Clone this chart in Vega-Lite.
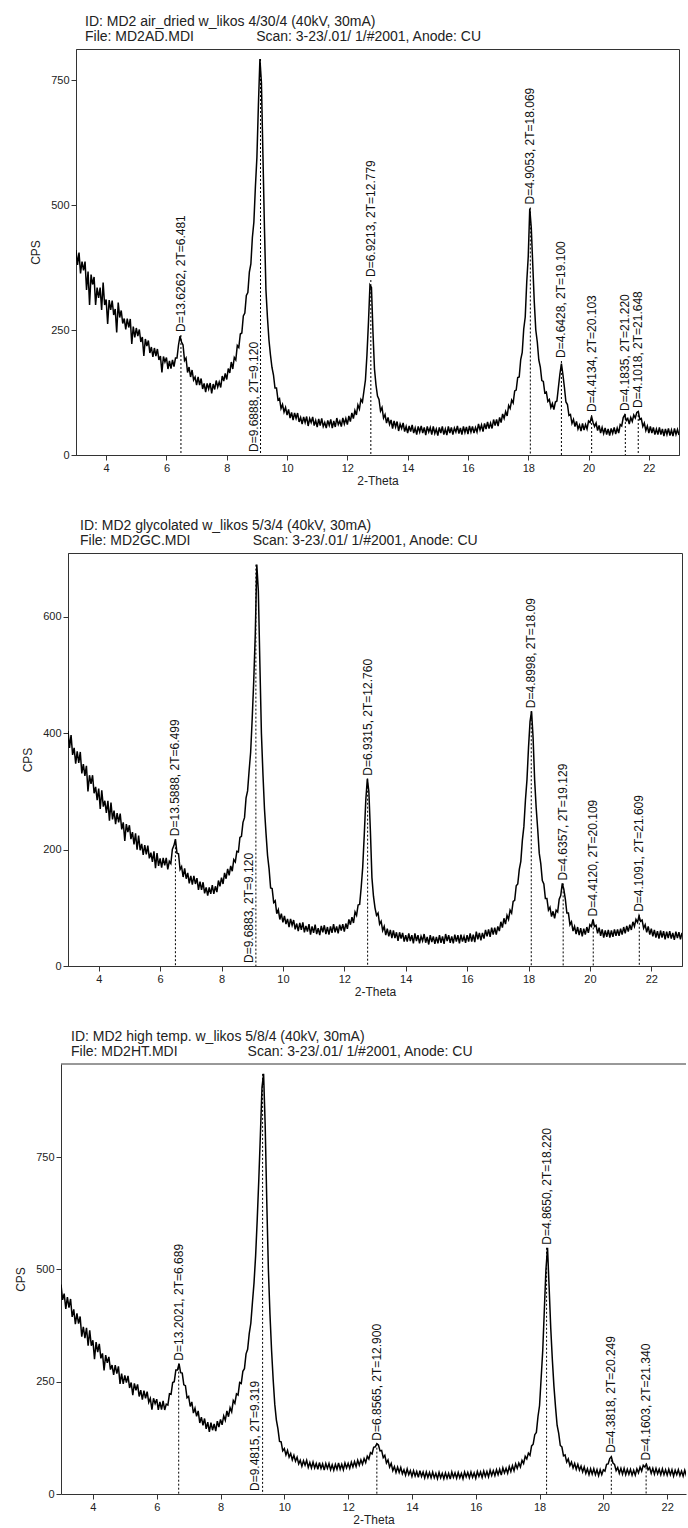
{
"$schema": "https://vega.github.io/schema/vega-lite/v6.json",
"background": "white",
"padding": {"left": 0, "top": 14, "right": 0, "bottom": 0},
"spacing": 31,
"config": {
  "font": "Liberation Sans",
  "view": {"stroke": "#333", "strokeWidth": 1},
  "axis": {"grid": false, "domainColor": "#333", "tickColor": "#333", "labelColor": "#222", "titleColor": "#222", "labelFontSize": 11, "titleFontSize": 12, "titleFontWeight": "normal", "tickSize": 5, "labelPadding": 2},
  "axisX": {"titlePadding": 2},
  "axisY": {"titlePadding": 8},
  "title": {"fontSize": 14, "fontWeight": "normal", "color": "#222", "lineHeight": 15, "anchor": "start", "frame": "group", "offset": 5},
  "text": {"font": "Liberation Sans"}
},
"datasets": {
"peaks": [
{"s":"a","t":6.481,"cps":240,"label":"D=13.6262, 2T=6.481"},
{"s":"a","t":9.12,"cps":792,"label":"D=9.6888, 2T=9.120"},
{"s":"a","t":12.779,"cps":350,"label":"D=6.9213, 2T=12.779"},
{"s":"a","t":18.069,"cps":495,"label":"D=4.9053, 2T=18.069"},
{"s":"a","t":19.1,"cps":188,"label":"D=4.6428, 2T=19.100"},
{"s":"a","t":20.103,"cps":80,"label":"D=4.4134, 2T=20.103"},
{"s":"a","t":21.22,"cps":82,"label":"D=4.1835, 2T=21.220"},
{"s":"a","t":21.648,"cps":88,"label":"D=4.1018, 2T=21.648"},
{"s":"g","t":6.499,"cps":218,"label":"D=13.5888, 2T=6.499"},
{"s":"g","t":9.12,"cps":690,"label":"D=9.6883, 2T=9.120"},
{"s":"g","t":12.76,"cps":322,"label":"D=6.9315, 2T=12.760"},
{"s":"g","t":18.09,"cps":438,"label":"D=4.8998, 2T=18.09"},
{"s":"g","t":19.129,"cps":142,"label":"D=4.6357, 2T=19.129"},
{"s":"g","t":20.109,"cps":80,"label":"D=4.4120, 2T=20.109"},
{"s":"g","t":21.609,"cps":88,"label":"D=4.1091, 2T=21.609"},
{"s":"h","t":6.689,"cps":290,"label":"D=13.2021, 2T=6.689"},
{"s":"h","t":9.319,"cps":935,"label":"D=9.4815, 2T=9.319"},
{"s":"h","t":12.9,"cps":112,"label":"D=6.8565, 2T=12.900"},
{"s":"h","t":18.22,"cps":548,"label":"D=4.8650, 2T=18.220"},
{"s":"h","t":20.249,"cps":85,"label":"D=4.3818, 2T=20.249"},
{"s":"h","t":21.34,"cps":68,"label":"D=4.1603, 2T=21.340"}
],
"scan": [
{"t":3.00,"a":410,"g":404,"h":466},{"t":3.05,"a":380,"g":375,"h":432},{"t":3.10,"a":405,"g":397,"h":446},{"t":3.15,"a":363,"g":363,"h":412},{"t":3.20,"a":387,"g":375,"h":438},
{"t":3.25,"a":369,"g":348,"h":415},{"t":3.30,"a":387,"g":369,"h":434},{"t":3.35,"a":330,"g":349,"h":394},{"t":3.40,"a":367,"g":368,"h":411},{"t":3.45,"a":300,"g":331,"h":378},
{"t":3.50,"a":361,"g":347,"h":402},{"t":3.55,"a":341,"g":327,"h":379},{"t":3.60,"a":356,"g":344,"h":395},{"t":3.65,"a":300,"g":300,"h":350},{"t":3.70,"a":335,"g":328,"h":372},
{"t":3.75,"a":314,"g":313,"h":347},{"t":3.80,"a":335,"g":328,"h":370},{"t":3.85,"a":290,"g":297,"h":330},{"t":3.90,"a":345,"g":308,"h":364},{"t":3.95,"a":300,"g":285,"h":330},
{"t":4.00,"a":311,"g":305,"h":342},{"t":4.05,"a":262,"g":270,"h":300},{"t":4.10,"a":310,"g":302,"h":338},{"t":4.15,"a":290,"g":274,"h":316},{"t":4.20,"a":309,"g":284,"h":334},
{"t":4.25,"a":280,"g":263,"h":302},{"t":4.30,"a":292,"g":284,"h":313},{"t":4.35,"a":245,"g":250,"h":275},{"t":4.40,"a":305,"g":281,"h":309},{"t":4.45,"a":275,"g":252,"h":292},
{"t":4.50,"a":289,"g":267,"h":305},{"t":4.55,"a":263,"g":244,"h":277},{"t":4.60,"a":273,"g":263,"h":287},{"t":4.65,"a":251,"g":247,"h":265},{"t":4.70,"a":273,"g":262,"h":287},
{"t":4.75,"a":255,"g":235,"h":268},{"t":4.80,"a":272,"g":247,"h":284},{"t":4.85,"a":222,"g":215,"h":245},{"t":4.90,"a":257,"g":244,"h":268},{"t":4.95,"a":235,"g":230,"h":245},
{"t":5.00,"a":254,"g":242,"h":264},{"t":5.05,"a":238,"g":218,"h":248},{"t":5.10,"a":251,"g":230,"h":263},{"t":5.15,"a":226,"g":209,"h":236},{"t":5.20,"a":236,"g":228,"h":248},
{"t":5.25,"a":198,"g":200,"h":220},{"t":5.30,"a":232,"g":224,"h":246},{"t":5.35,"a":218,"g":199,"h":231},{"t":5.40,"a":229,"g":210,"h":244},{"t":5.45,"a":204,"g":191,"h":217},
{"t":5.50,"a":216,"g":208,"h":231},{"t":5.55,"a":196,"g":192,"h":210},{"t":5.60,"a":214,"g":207,"h":230},{"t":5.65,"a":198,"g":185,"h":213},{"t":5.70,"a":212,"g":195,"h":228},
{"t":5.75,"a":190,"g":179,"h":204},{"t":5.80,"a":198,"g":197,"h":213},{"t":5.85,"a":165,"g":168,"h":188},{"t":5.90,"a":197,"g":194,"h":213},{"t":5.95,"a":186,"g":172,"h":201},
{"t":6.00,"a":195,"g":185,"h":211},{"t":6.05,"a":172,"g":169,"h":187},{"t":6.10,"a":188,"g":186,"h":205},{"t":6.15,"a":173,"g":173,"h":188},{"t":6.20,"a":190,"g":186,"h":207},
{"t":6.25,"a":177,"g":166,"h":187},{"t":6.30,"a":194,"g":180,"h":200},{"t":6.35,"a":194,"g":176,"h":198},{"t":6.40,"a":220,"g":201,"h":223},{"t":6.45,"a":238,"g":207,"h":222},
{"t":6.50,"a":226,"g":218,"h":248},{"t":6.55,"a":220,"g":194,"h":250},{"t":6.60,"a":189,"g":193,"h":276},{"t":6.65,"a":194,"g":166,"h":276},{"t":6.70,"a":165,"g":171,"h":290},
{"t":6.75,"a":176,"g":153,"h":270},{"t":6.80,"a":156,"g":168,"h":269},{"t":6.85,"a":170,"g":150,"h":243},{"t":6.90,"a":150,"g":160,"h":241},{"t":6.95,"a":156,"g":142,"h":214},
{"t":7.00,"a":140,"g":155,"h":217},{"t":7.05,"a":156,"g":140,"h":195},{"t":7.10,"a":140,"g":155,"h":205},{"t":7.15,"a":153,"g":141,"h":180},{"t":7.20,"a":132,"g":151,"h":191},
{"t":7.25,"a":143,"g":131,"h":173},{"t":7.30,"a":126,"g":145,"h":185},{"t":7.35,"a":143,"g":131,"h":158},{"t":7.40,"a":132,"g":144,"h":171},{"t":7.45,"a":144,"g":125,"h":153},
{"t":7.50,"a":123,"g":135,"h":168},{"t":7.55,"a":142,"g":121,"h":145},{"t":7.60,"a":131,"g":135,"h":160},{"t":7.65,"a":149,"g":124,"h":138},{"t":7.70,"a":136,"g":139,"h":159},
{"t":7.75,"a":146,"g":124,"h":142},{"t":7.80,"a":135,"g":137,"h":156},{"t":7.85,"a":158,"g":127,"h":140},{"t":7.90,"a":148,"g":147,"h":162},{"t":7.95,"a":163,"g":137,"h":149},
{"t":8.00,"a":151,"g":152,"h":166},{"t":8.05,"a":173,"g":141,"h":154},{"t":8.10,"a":164,"g":160,"h":174},{"t":8.15,"a":186,"g":150,"h":164},{"t":8.20,"a":172,"g":167,"h":185},
{"t":8.25,"a":195,"g":156,"h":172},{"t":8.30,"a":190,"g":172,"h":192},{"t":8.35,"a":219,"g":163,"h":183},{"t":8.40,"a":215,"g":183,"h":208},{"t":8.45,"a":242,"g":179,"h":202},
{"t":8.50,"a":244,"g":197,"h":223},{"t":8.55,"a":278,"g":196,"h":220},{"t":8.60,"a":284,"g":221,"h":248},{"t":8.65,"a":319,"g":223,"h":246},{"t":8.70,"a":325,"g":247,"h":273},
{"t":8.75,"a":366,"g":255,"h":279},{"t":8.80,"a":382,"g":289,"h":312},{"t":8.85,"a":435,"g":301,"h":322},{"t":8.90,"a":466,"g":336,"h":357},{"t":8.95,"a":536,"g":368,"h":380},
{"t":9.00,"a":595,"g":425,"h":426},{"t":9.05,"a":700,"g":490,"h":470},{"t":9.10,"a":792,"g":570,"h":530},{"t":9.15,"a":745,"g":690,"h":610},{"t":9.20,"a":600,"g":645,"h":700},
{"t":9.25,"a":455,"g":520,"h":800},{"t":9.30,"a":330,"g":400,"h":905},{"t":9.35,"a":275,"g":330,"h":935},{"t":9.40,"a":230,"g":270,"h":820},{"t":9.45,"a":200,"g":228,"h":650},
{"t":9.50,"a":175,"g":190,"h":500},{"t":9.55,"a":160,"g":167,"h":400},{"t":9.60,"a":134,"g":134,"h":320},{"t":9.65,"a":134,"g":133,"h":255},{"t":9.70,"a":110,"g":109,"h":200},
{"t":9.75,"a":113,"g":112,"h":165},{"t":9.80,"a":93,"g":90,"h":145},{"t":9.85,"a":101,"g":97,"h":117},{"t":9.90,"a":86,"g":80,"h":116},{"t":9.95,"a":95,"g":90,"h":96},
{"t":10.00,"a":80,"g":75,"h":101},{"t":10.05,"a":91,"g":86,"h":87},{"t":10.10,"a":74,"g":72,"h":97},{"t":10.15,"a":85,"g":81,"h":82},{"t":10.20,"a":70,"g":67,"h":90},
{"t":10.25,"a":84,"g":81,"h":76},{"t":10.30,"a":73,"g":70,"h":86},{"t":10.35,"a":84,"g":79,"h":73},{"t":10.40,"a":66,"g":63,"h":82},{"t":10.45,"a":75,"g":73,"h":67},
{"t":10.50,"a":62,"g":60,"h":75},{"t":10.55,"a":76,"g":74,"h":62},{"t":10.60,"a":65,"g":62,"h":74},{"t":10.65,"a":77,"g":75,"h":64},{"t":10.70,"a":58,"g":58,"h":75},
{"t":10.75,"a":73,"g":69,"h":59},{"t":10.80,"a":65,"g":59,"h":70},{"t":10.85,"a":76,"g":72,"h":58},{"t":10.90,"a":59,"g":54,"h":71},{"t":10.95,"a":69,"g":68,"h":58},
{"t":11.00,"a":56,"g":57,"h":68},{"t":11.05,"a":72,"g":71,"h":55},{"t":11.10,"a":59,"g":55,"h":70},{"t":11.15,"a":73,"g":65,"h":57},{"t":11.20,"a":57,"g":53,"h":67},
{"t":11.25,"a":65,"g":69,"h":53},{"t":11.30,"a":54,"g":58,"h":68},{"t":11.35,"a":69,"g":70,"h":57},{"t":11.40,"a":59,"g":55,"h":68},{"t":11.45,"a":71,"g":67,"h":54},
{"t":11.50,"a":54,"g":54,"h":65},{"t":11.55,"a":68,"g":68,"h":53},{"t":11.60,"a":56,"g":57,"h":66},{"t":11.65,"a":74,"g":72,"h":55},{"t":11.70,"a":61,"g":58,"h":69},
{"t":11.75,"a":68,"g":68,"h":55},{"t":11.80,"a":57,"g":56,"h":66},{"t":11.85,"a":74,"g":71,"h":54},{"t":11.90,"a":62,"g":61,"h":69},{"t":11.95,"a":73,"g":72,"h":58},
{"t":12.00,"a":61,"g":59,"h":68},{"t":12.05,"a":78,"g":73,"h":57},{"t":12.10,"a":67,"g":64,"h":71},{"t":12.15,"a":84,"g":80,"h":60},{"t":12.20,"a":73,"g":71,"h":72},
{"t":12.25,"a":89,"g":84,"h":61},{"t":12.30,"a":80,"g":74,"h":75},{"t":12.35,"a":100,"g":93,"h":64},{"t":12.40,"a":92,"g":87,"h":76},{"t":12.45,"a":111,"g":105,"h":66},
{"t":12.50,"a":106,"g":106,"h":79},{"t":12.55,"a":128,"g":135,"h":70},{"t":12.60,"a":150,"g":170,"h":84},{"t":12.65,"a":200,"g":225,"h":78},{"t":12.70,"a":265,"g":285,"h":92},
{"t":12.75,"a":340,"g":322,"h":89},{"t":12.80,"a":335,"g":300,"h":104},{"t":12.85,"a":245,"g":232,"h":105},{"t":12.90,"a":172,"g":152,"h":112},{"t":12.95,"a":140,"g":120,"h":109},
{"t":13.00,"a":118,"g":100,"h":96},{"t":13.05,"a":111,"g":87,"h":97},{"t":13.10,"a":88,"g":91,"h":81},{"t":13.15,"a":95,"g":72,"h":86},{"t":13.20,"a":74,"g":77,"h":69},
{"t":13.25,"a":81,"g":61,"h":76},{"t":13.30,"a":64,"g":68,"h":60},{"t":13.35,"a":75,"g":53,"h":68},{"t":13.40,"a":61,"g":64,"h":52},{"t":13.45,"a":70,"g":51,"h":61},
{"t":13.50,"a":53,"g":62,"h":48},{"t":13.55,"a":68,"g":48,"h":60},{"t":13.60,"a":56,"g":61,"h":48},{"t":13.65,"a":67,"g":48,"h":59},{"t":13.70,"a":48,"g":58,"h":45},
{"t":13.75,"a":62,"g":43,"h":54},{"t":13.80,"a":53,"g":58,"h":42},{"t":13.85,"a":64,"g":47,"h":56},{"t":13.90,"a":47,"g":57,"h":43},{"t":13.95,"a":57,"g":42,"h":52},
{"t":14.00,"a":44,"g":53,"h":39},{"t":14.05,"a":58,"g":42,"h":52},{"t":14.10,"a":47,"g":56,"h":40},{"t":14.15,"a":60,"g":43,"h":50},{"t":14.20,"a":44,"g":53,"h":37},
{"t":14.25,"a":54,"g":39,"h":52},{"t":14.30,"a":41,"g":56,"h":39},{"t":14.35,"a":57,"g":43,"h":49},{"t":14.40,"a":46,"g":53,"h":36},{"t":14.45,"a":58,"g":39,"h":49},
{"t":14.50,"a":44,"g":51,"h":37},{"t":14.55,"a":55,"g":43,"h":48},{"t":14.60,"a":40,"g":55,"h":36},{"t":14.65,"a":57,"g":40,"h":49},{"t":14.70,"a":46,"g":50,"h":36},
{"t":14.75,"a":55,"g":37,"h":46},{"t":14.80,"a":41,"g":53,"h":34},{"t":14.85,"a":57,"g":41,"h":48},{"t":14.90,"a":43,"g":51,"h":36},{"t":14.95,"a":52,"g":38,"h":46},
{"t":15.00,"a":39,"g":50,"h":34},{"t":15.05,"a":55,"g":39,"h":47},{"t":15.10,"a":44,"g":53,"h":35},{"t":15.15,"a":57,"g":40,"h":46},{"t":15.20,"a":41,"g":51,"h":33},
{"t":15.25,"a":52,"g":38,"h":49},{"t":15.30,"a":40,"g":55,"h":37},{"t":15.35,"a":57,"g":43,"h":47},{"t":15.40,"a":44,"g":53,"h":35},{"t":15.45,"a":55,"g":40,"h":48},
{"t":15.50,"a":41,"g":51,"h":36},{"t":15.55,"a":54,"g":39,"h":46},{"t":15.60,"a":46,"g":54,"h":34},{"t":15.65,"a":58,"g":42,"h":49},{"t":15.70,"a":43,"g":53,"h":38},
{"t":15.75,"a":54,"g":39,"h":48},{"t":15.80,"a":41,"g":54,"h":36},{"t":15.85,"a":57,"g":42,"h":49},{"t":15.90,"a":45,"g":51,"h":37},{"t":15.95,"a":56,"g":40,"h":47},
{"t":16.00,"a":42,"g":53,"h":35},{"t":16.05,"a":58,"g":42,"h":50},{"t":16.10,"a":46,"g":56,"h":39},{"t":16.15,"a":57,"g":42,"h":49},{"t":16.20,"a":44,"g":54,"h":37},
{"t":16.25,"a":55,"g":41,"h":51},{"t":16.30,"a":46,"g":59,"h":39},{"t":16.35,"a":62,"g":46,"h":50},{"t":16.40,"a":50,"g":57,"h":38},{"t":16.45,"a":60,"g":44,"h":53},
{"t":16.50,"a":47,"g":57,"h":41},{"t":16.55,"a":63,"g":47,"h":52},{"t":16.60,"a":52,"g":62,"h":41},{"t":16.65,"a":66,"g":51,"h":54},{"t":16.70,"a":53,"g":63,"h":43},
{"t":16.75,"a":64,"g":50,"h":55},{"t":16.80,"a":53,"g":66,"h":42},{"t":16.85,"a":71,"g":54,"h":58},{"t":16.90,"a":59,"g":66,"h":47},{"t":16.95,"a":71,"g":54,"h":57},
{"t":17.00,"a":58,"g":68,"h":46},{"t":17.05,"a":75,"g":60,"h":61},{"t":17.10,"a":65,"g":76,"h":50},{"t":17.15,"a":82,"g":66,"h":63},{"t":17.20,"a":73,"g":82,"h":52},
{"t":17.25,"a":87,"g":72,"h":67},{"t":17.30,"a":78,"g":87,"h":57},{"t":17.35,"a":99,"g":80,"h":69},{"t":17.40,"a":93,"g":96,"h":60},{"t":17.45,"a":110,"g":91,"h":75},
{"t":17.50,"a":104,"g":111,"h":68},{"t":17.55,"a":128,"g":113,"h":84},{"t":17.60,"a":130,"g":138,"h":78},{"t":17.65,"a":155,"g":141,"h":91},{"t":17.70,"a":156,"g":166,"h":86},
{"t":17.75,"a":191,"g":180,"h":107},{"t":17.80,"a":205,"g":216,"h":111},{"t":17.85,"a":252,"g":240,"h":132},{"t":17.90,"a":276,"g":285,"h":137},{"t":17.95,"a":346,"g":320,"h":172},
{"t":18.00,"a":397,"g":375,"h":197},{"t":18.05,"a":493,"g":420,"h":258},{"t":18.10,"a":455,"g":438,"h":320},{"t":18.15,"a":380,"g":392,"h":410},{"t":18.20,"a":306,"g":320,"h":500},
{"t":18.25,"a":250,"g":272,"h":548},{"t":18.30,"a":226,"g":235,"h":460},{"t":18.35,"a":190,"g":194,"h":370},{"t":18.40,"a":176,"g":176,"h":300},{"t":18.45,"a":149,"g":147,"h":240},
{"t":18.50,"a":147,"g":141,"h":194},{"t":18.55,"a":124,"g":116,"h":153},{"t":18.60,"a":126,"g":116,"h":135},{"t":18.65,"a":107,"g":96,"h":108},{"t":18.70,"a":111,"g":101,"h":105},
{"t":18.75,"a":95,"g":85,"h":85},{"t":18.80,"a":103,"g":94,"h":87},{"t":18.85,"a":91,"g":82,"h":71},{"t":18.90,"a":106,"g":96,"h":78},{"t":18.95,"a":108,"g":93,"h":63},
{"t":19.00,"a":135,"g":115,"h":71},{"t":19.05,"a":162,"g":121,"h":58},{"t":19.10,"a":183,"g":142,"h":68},{"t":19.15,"a":161,"g":132,"h":55},{"t":19.20,"a":135,"g":115,"h":66},
{"t":19.25,"a":106,"g":91,"h":53},{"t":19.30,"a":101,"g":91,"h":62},{"t":19.35,"a":79,"g":71,"h":49},{"t":19.40,"a":81,"g":76,"h":60},{"t":19.45,"a":63,"g":60,"h":46},
{"t":19.50,"a":71,"g":68,"h":56},{"t":19.55,"a":57,"g":55,"h":43},{"t":19.60,"a":67,"g":67,"h":56},{"t":19.65,"a":52,"g":53,"h":44},{"t":19.70,"a":60,"g":65,"h":56},
{"t":19.75,"a":48,"g":51,"h":43},{"t":19.80,"a":63,"g":64,"h":54},{"t":19.85,"a":50,"g":54,"h":41},{"t":19.90,"a":61,"g":67,"h":54},{"t":19.95,"a":52,"g":57,"h":43},
{"t":20.00,"a":68,"g":71,"h":54},{"t":20.05,"a":65,"g":68,"h":51},{"t":20.10,"a":77,"g":80,"h":66},{"t":20.15,"a":65,"g":68,"h":67},{"t":20.20,"a":57,"g":70,"h":79},
{"t":20.25,"a":64,"g":56,"h":83},{"t":20.30,"a":49,"g":66,"h":69},{"t":20.35,"a":59,"g":52,"h":66},{"t":20.40,"a":44,"g":63,"h":52},{"t":20.45,"a":55,"g":49,"h":59},
{"t":20.50,"a":43,"g":61,"h":46},{"t":20.55,"a":54,"g":50,"h":57},{"t":20.60,"a":41,"g":62,"h":44},{"t":20.65,"a":52,"g":49,"h":57},{"t":20.70,"a":39,"g":61,"h":43},
{"t":20.75,"a":53,"g":50,"h":55},{"t":20.80,"a":43,"g":63,"h":44},{"t":20.85,"a":55,"g":52,"h":55},{"t":20.90,"a":42,"g":63,"h":42},{"t":20.95,"a":54,"g":52,"h":53},
{"t":21.00,"a":44,"g":64,"h":42},{"t":21.05,"a":61,"g":54,"h":56},{"t":21.10,"a":58,"g":67,"h":47},{"t":21.15,"a":75,"g":56,"h":60},{"t":21.20,"a":80,"g":69,"h":51},
{"t":21.25,"a":69,"g":59,"h":64},{"t":21.30,"a":73,"g":71,"h":60},{"t":21.35,"a":62,"g":62,"h":66},{"t":21.40,"a":75,"g":76,"h":54},{"t":21.45,"a":67,"g":68,"h":59},
{"t":21.50,"a":80,"g":80,"h":46},{"t":21.55,"a":74,"g":75,"h":57},{"t":21.60,"a":85,"g":86,"h":44},{"t":21.65,"a":87,"g":77,"h":57},{"t":21.70,"a":71,"g":79,"h":45},
{"t":21.75,"a":73,"g":65,"h":55},{"t":21.80,"a":57,"g":71,"h":43},{"t":21.85,"a":64,"g":58,"h":56},{"t":21.90,"a":49,"g":68,"h":43},{"t":21.95,"a":58,"g":54,"h":54},
{"t":22.00,"a":44,"g":64,"h":42},{"t":22.05,"a":57,"g":51,"h":55},{"t":22.10,"a":44,"g":62,"h":43},{"t":22.15,"a":55,"g":49,"h":54},{"t":22.20,"a":41,"g":60,"h":40},
{"t":22.25,"a":52,"g":47,"h":53},{"t":22.30,"a":41,"g":61,"h":43},{"t":22.35,"a":55,"g":49,"h":54},{"t":22.40,"a":41,"g":60,"h":41},{"t":22.45,"a":52,"g":46,"h":51},
{"t":22.50,"a":38,"g":59,"h":40},{"t":22.55,"a":52,"g":48,"h":53},{"t":22.60,"a":41,"g":60,"h":41},{"t":22.65,"a":53,"g":47,"h":52},{"t":22.70,"a":39,"g":57,"h":39},
{"t":22.75,"a":50,"g":45,"h":51},{"t":22.80,"a":38,"g":59,"h":41},{"t":22.85,"a":53,"g":48,"h":52},{"t":22.90,"a":41,"g":58,"h":39},{"t":22.95,"a":51,"g":46,"h":50},
{"t":23.00,"a":40,"g":57,"h":39}
]
},
"vconcat": [
{"spacing": 0, "hconcat": [
  {"width": 29, "height": 10, "data": {"values": []}, "mark": "point", "encoding": {}, "view": {"stroke": null}},
  {"width": 603, "height": 406,
   "title": {"text": ["ID: MD2 air_dried w_likos 4/30/4 (40kV, 30mA)", "File: MD2AD.MDI\u00a0\u00a0\u00a0\u00a0\u00a0\u00a0\u00a0\u00a0\u00a0\u00a0\u00a0\u00a0\u00a0\u00a0\u00a0\u00a0Scan: 3-23/.01/ 1/#2001, Anode: CU"], "dx": 9},
   "layer": [
    {"data": {"name": "scan"}, "mark": {"type": "line", "color": "black", "strokeWidth": 1.5, "clip": true},
     "encoding": {
      "x": {"field": "t", "type": "quantitative", "title": "2-Theta", "scale": {"domain": [3, 23], "nice": false, "zero": false}, "axis": {"values": [4,5,6,7,8,9,10,11,12,13,14,15,16,17,18,19,20,21,22], "labelExpr": "datum.value % 2 === 0 ? datum.label : ''"}},
      "y": {"field": "a", "type": "quantitative", "title": "CPS", "scale": {"domain": [0, 812], "nice": false}, "axis": {"values": [0, 250, 500, 750]}}}},
    {"data": {"name": "peaks"}, "transform": [{"filter": "datum.s === 'a'"}], "mark": {"type": "rule", "color": "black", "strokeDash": [2, 2], "strokeWidth": 1},
     "encoding": {"x": {"field": "t", "type": "quantitative", "title": "2-Theta"}, "y": {"field": "cps", "type": "quantitative", "title": "CPS"}, "y2": {"datum": 0}}},
    {"data": {"name": "peaks"}, "transform": [{"filter": "datum.s === 'a' && datum.cps < 600"}], "mark": {"type": "text", "angle": 270, "align": "left", "baseline": "middle", "dx": 3, "fontSize": 12, "color": "#111"},
     "encoding": {"x": {"field": "t", "type": "quantitative", "title": "2-Theta"}, "y": {"field": "cps", "type": "quantitative", "title": "CPS"}, "text": {"field": "label"}}},
    {"data": {"name": "peaks"}, "transform": [{"filter": "datum.s === 'a' && datum.cps >= 600"}], "mark": {"type": "text", "angle": 270, "align": "left", "baseline": "middle", "dx": 3, "dy": -7, "fontSize": 12, "color": "#111"},
     "encoding": {"x": {"field": "t", "type": "quantitative", "title": "2-Theta"}, "y": {"datum": 0}, "text": {"field": "label"}}}
   ]}
]},
{"spacing": 0, "hconcat": [
  {"width": 21, "height": 10, "data": {"values": []}, "mark": "point", "encoding": {}, "view": {"stroke": null}},
  {"width": 614, "height": 413,
   "title": {"text": ["ID: MD2 glycolated w_likos 5/3/4 (40kV, 30mA)", "File: MD2GC.MDI\u00a0\u00a0\u00a0\u00a0\u00a0\u00a0\u00a0\u00a0\u00a0\u00a0\u00a0\u00a0\u00a0\u00a0\u00a0\u00a0Scan: 3-23/.01/ 1/#2001, Anode: CU"], "dx": 12},
   "layer": [
    {"data": {"name": "scan"}, "mark": {"type": "line", "color": "black", "strokeWidth": 1.5, "clip": true},
     "encoding": {
      "x": {"field": "t", "type": "quantitative", "title": "2-Theta", "scale": {"domain": [3, 23], "nice": false, "zero": false}, "axis": {"values": [4,5,6,7,8,9,10,11,12,13,14,15,16,17,18,19,20,21,22], "labelExpr": "datum.value % 2 === 0 ? datum.label : ''"}},
      "y": {"field": "g", "type": "quantitative", "title": "CPS", "scale": {"domain": [0, 710], "nice": false}, "axis": {"values": [0, 200, 400, 600]}}}},
    {"data": {"name": "peaks"}, "transform": [{"filter": "datum.s === 'g'"}], "mark": {"type": "rule", "color": "black", "strokeDash": [2, 2], "strokeWidth": 1},
     "encoding": {"x": {"field": "t", "type": "quantitative", "title": "2-Theta"}, "y": {"field": "cps", "type": "quantitative", "title": "CPS"}, "y2": {"datum": 0}}},
    {"data": {"name": "peaks"}, "transform": [{"filter": "datum.s === 'g' && datum.cps < 600"}], "mark": {"type": "text", "angle": 270, "align": "left", "baseline": "middle", "dx": 3, "fontSize": 12, "color": "#111"},
     "encoding": {"x": {"field": "t", "type": "quantitative", "title": "2-Theta"}, "y": {"field": "cps", "type": "quantitative", "title": "CPS"}, "text": {"field": "label"}}},
    {"data": {"name": "peaks"}, "transform": [{"filter": "datum.s === 'g' && datum.cps >= 600"}], "mark": {"type": "text", "angle": 270, "align": "left", "baseline": "middle", "dx": 3, "dy": -7, "fontSize": 12, "color": "#111"},
     "encoding": {"x": {"field": "t", "type": "quantitative", "title": "2-Theta"}, "y": {"datum": 0}, "text": {"field": "label"}}}
   ]}
]},
{"spacing": 0, "hconcat": [
  {"width": 14, "height": 10, "data": {"values": []}, "mark": "point", "encoding": {}, "view": {"stroke": null}},
  {"width": 625, "height": 430,
   "view": {"stroke": null},
   "title": {"text": ["ID: MD2 high temp. w_likos 5/8/4 (40kV, 30mA)", "File: MD2HT.MDI\u00a0\u00a0\u00a0\u00a0\u00a0\u00a0\u00a0\u00a0\u00a0\u00a0\u00a0\u00a0\u00a0\u00a0\u00a0\u00a0\u00a0\u00a0Scan: 3-23/.01/ 1/#2001, Anode: CU"], "dx": 10},
   "layer": [
    {"data": {"name": "scan"}, "mark": {"type": "line", "color": "black", "strokeWidth": 1.5, "clip": true},
     "encoding": {
      "x": {"field": "t", "type": "quantitative", "title": "2-Theta", "scale": {"domain": [3, 22.59], "nice": false, "zero": false}, "axis": {"values": [4,5,6,7,8,9,10,11,12,13,14,15,16,17,18,19,20,21,22], "labelExpr": "datum.value % 2 === 0 ? datum.label : ''"}},
      "y": {"field": "h", "type": "quantitative", "title": "CPS", "scale": {"domain": [0, 957], "nice": false}, "axis": {"values": [0, 250, 500, 750]}}}},
    {"data": {"values": [{"top": 957}]}, "mark": {"type": "rule", "color": "#333", "strokeWidth": 1},
     "encoding": {"y": {"field": "top", "type": "quantitative", "title": "CPS"}}},
    {"data": {"name": "peaks"}, "transform": [{"filter": "datum.s === 'h'"}], "mark": {"type": "rule", "color": "black", "strokeDash": [2, 2], "strokeWidth": 1},
     "encoding": {"x": {"field": "t", "type": "quantitative", "title": "2-Theta"}, "y": {"field": "cps", "type": "quantitative", "title": "CPS"}, "y2": {"datum": 0}}},
    {"data": {"name": "peaks"}, "transform": [{"filter": "datum.s === 'h' && datum.cps < 600"}], "mark": {"type": "text", "angle": 270, "align": "left", "baseline": "middle", "dx": 3, "fontSize": 12, "color": "#111"},
     "encoding": {"x": {"field": "t", "type": "quantitative", "title": "2-Theta"}, "y": {"field": "cps", "type": "quantitative", "title": "CPS"}, "text": {"field": "label"}}},
    {"data": {"name": "peaks"}, "transform": [{"filter": "datum.s === 'h' && datum.cps >= 600"}], "mark": {"type": "text", "angle": 270, "align": "left", "baseline": "middle", "dx": 3, "dy": -8, "fontSize": 12, "color": "#111"},
     "encoding": {"x": {"field": "t", "type": "quantitative", "title": "2-Theta"}, "y": {"datum": 0}, "text": {"field": "label"}}}
   ]}
]}
]
}
